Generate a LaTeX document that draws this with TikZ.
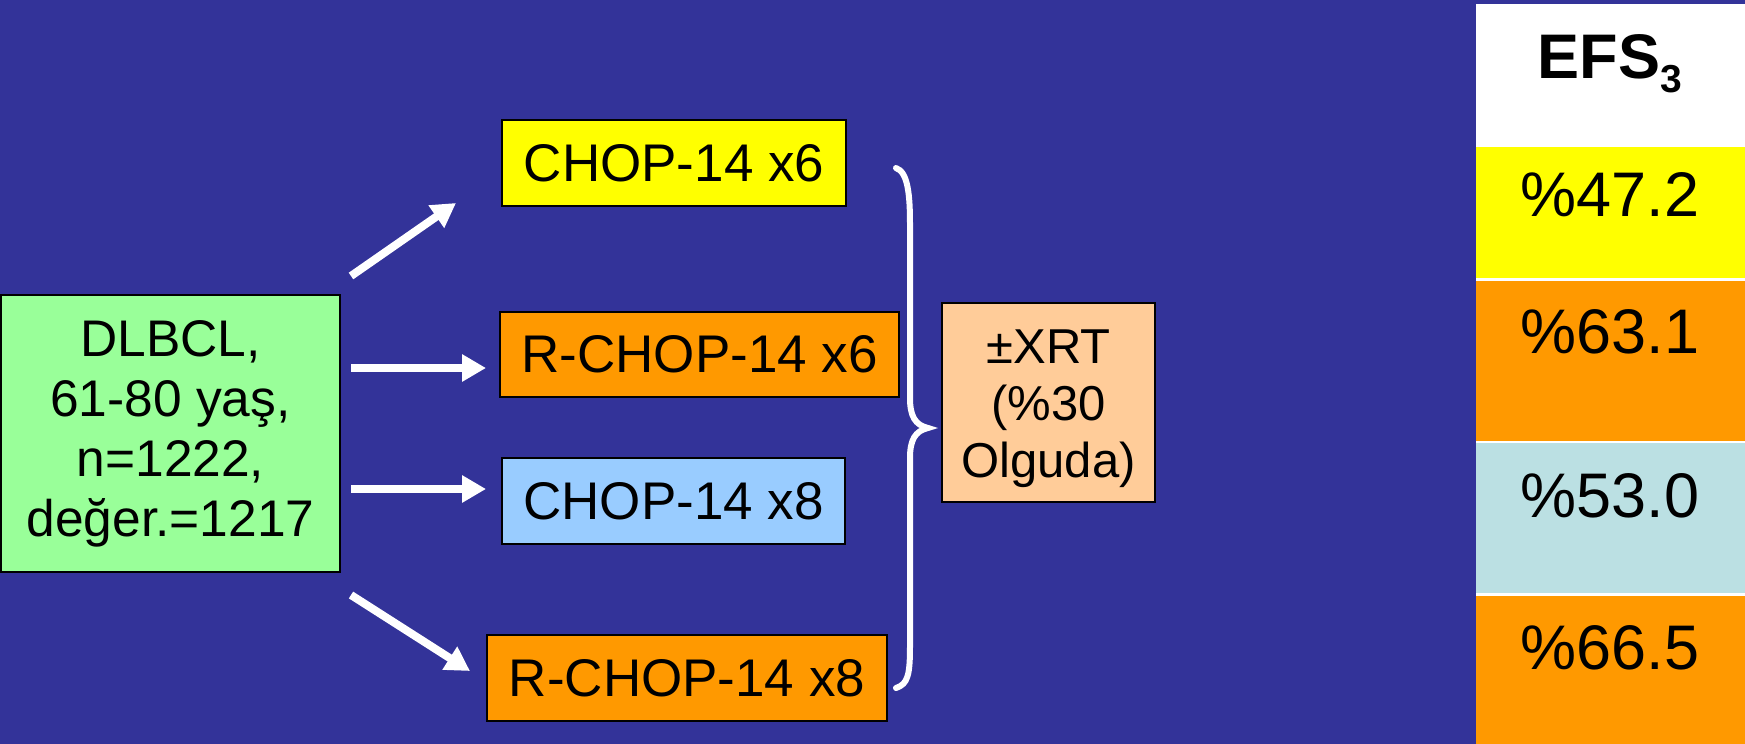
\documentclass[tikz,border=0pt]{standalone}
\usepackage{fontspec}
\setmainfont{Liberation Sans}
\usetikzlibrary{arrows.meta}
\definecolor{bgblue}{HTML}{333399}
\definecolor{boxgreen}{HTML}{99FF99}
\definecolor{boxyellow}{HTML}{FFFF00}
\definecolor{boxorange}{HTML}{FF9900}
\definecolor{boxblue}{HTML}{99CCFF}
\definecolor{boxpeach}{HTML}{FFCC99}
\definecolor{cellblue}{HTML}{BBE0E3}
\begin{document}
\begin{tikzpicture}[x=1pt,y=-1pt,
  armbox/.style={draw=black, line width=1.5pt, inner sep=0pt, align=center,
    font=\fontsize{53}{63}\selectfont},
  arr/.style={white, line width=8pt, -{Triangle[length=24pt,width=26pt]}},
  cell/.style={inner sep=0pt, anchor=base, font=\fontsize{63}{63}\selectfont}]
% background
\fill[bgblue] (0,0) rectangle (1745,744);
\useasboundingbox (0,0) rectangle (1745,744);

% patient group
\node[armbox, fill=boxgreen, minimum width=339pt, minimum height=277pt,
  font=\fontsize{51.5}{60}\selectfont] (dl) at (170.5,433.5)
  {DLBCL,\\61-80 yaş,\\n=1222,\\değer.=1217};

% treatment arms
\node[armbox, fill=boxyellow, minimum width=344pt, minimum height=86pt] (c6) at (674,163) {CHOP-14 x6};
\node[armbox, fill=boxorange, minimum width=399pt, minimum height=85pt] (r6) at (699.5,354.5) {R-CHOP-14 x6};
\node[armbox, fill=boxblue, minimum width=343pt, minimum height=86pt] (c8) at (673.5,501) {CHOP-14 x8};
\node[armbox, fill=boxorange, minimum width=400pt, minimum height=86pt] (r8) at (687,678) {R-CHOP-14 x8};

% radiotherapy
\node[armbox, fill=boxpeach, minimum width=213pt, minimum height=199pt,
  font=\fontsize{49}{57}\selectfont] (xrt) at (1048.5,402.5)
  {\rule{0pt}{47pt}±XRT\\(\%30\\Olguda)};

% arrow end points
\coordinate (s1) at (351,276); \coordinate (e1) at (456,203);
\coordinate (s2) at (351,368); \coordinate (e2) at (486,368);
\coordinate (s3) at (351,489); \coordinate (e3) at (486,489);
\coordinate (s4) at (351,595); \coordinate (e4) at (470,671);
\draw[arr] (s1) -- (e1);
\draw[arr] (s2) -- (e2);
\draw[arr] (s3) -- (e3);
\draw[arr] (s4) -- (e4);

% brace grouping the arms
\draw[white, line width=6pt, line cap=round]
  (896,168) .. controls (908,172) and (910,195) .. (910,225)
  -- (910,398) .. controls (910,416) and (915,425) .. (928,428)
  .. controls (915,431) and (910,440) .. (910,458)
  -- (910,645) .. controls (910,675) and (908,684) .. (896,688);

% EFS column
\fill[white] (1476,4) rectangle (1745,744);
\fill[boxyellow] (1476,147) rectangle (1745,278);
\fill[boxorange] (1476,281) rectangle (1745,441);
\fill[cellblue] (1476,443) rectangle (1745,593);
\fill[boxorange] (1476,596) rectangle (1745,744);
\node[cell, font=\fontsize{63}{63}\selectfont\bfseries] (efs) at (1610,78)
  {EFS\raisebox{-14pt}{\fontsize{39}{39}\selectfont 3}};
\node[cell] (v1) at (1610,216) {\%47.2};
\node[cell] (v2) at (1610,353) {\%63.1};
\node[cell] (v3) at (1610,517) {\%53.0};
\node[cell] (v4) at (1610,669) {\%66.5};
\end{tikzpicture}
\end{document}
